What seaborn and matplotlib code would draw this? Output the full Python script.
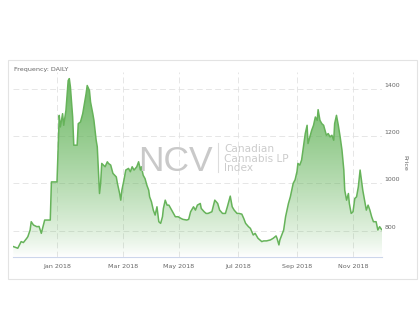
import numpy as np
import pandas as pd
import matplotlib
matplotlib.use("Agg")
import matplotlib.pyplot as plt
from matplotlib.transforms import ScaledTranslation
from matplotlib.patches import Rectangle
from matplotlib.lines import Line2D
import matplotlib.dates as mdates
import seaborn as sns

# ---------------- data ----------------
dates = [
    "2017-11-23", "2017-11-27", "2017-11-30", "2017-12-02", "2017-12-05", "2017-12-06",
    "2017-12-08", "2017-12-09", "2017-12-11", "2017-12-14", "2017-12-16", "2017-12-18",
    "2017-12-21", "2017-12-26", "2017-12-27", "2018-01-01", "2018-01-03", "2018-01-04",
    "2018-01-06", "2018-01-07", "2018-01-09", "2018-01-11", "2018-01-12", "2018-01-13",
    "2018-01-15", "2018-01-16", "2018-01-19", "2018-01-20", "2018-01-22", "2018-01-24",
    "2018-01-27", "2018-01-28", "2018-01-30", "2018-01-31", "2018-02-02", "2018-02-03",
    "2018-02-05", "2018-02-06", "2018-02-08", "2018-02-09", "2018-02-10", "2018-02-13",
    "2018-02-15", "2018-02-16", "2018-02-18", "2018-02-20", "2018-02-23", "2018-02-24",
    "2018-02-26", "2018-02-27", "2018-02-28", "2018-03-02", "2018-03-04", "2018-03-07",
    "2018-03-09", "2018-03-11", "2018-03-13", "2018-03-16", "2018-03-18", "2018-03-20",
    "2018-03-21", "2018-03-23", "2018-03-25", "2018-03-27", "2018-03-29", "2018-03-30",
    "2018-04-01", "2018-04-03", "2018-04-05", "2018-04-07", "2018-04-09", "2018-04-11",
    "2018-04-13", "2018-04-14", "2018-04-16", "2018-04-18", "2018-04-20", "2018-04-22",
    "2018-04-25", "2018-04-27", "2018-04-30", "2018-05-03", "2018-05-05", "2018-05-09",
    "2018-05-11", "2018-05-13", "2018-05-16", "2018-05-18", "2018-05-20", "2018-05-23",
    "2018-05-24", "2018-05-27", "2018-05-29", "2018-05-31", "2018-06-04", "2018-06-07",
    "2018-06-10", "2018-06-12", "2018-06-15", "2018-06-18", "2018-06-20", "2018-06-23",
    "2018-06-25", "2018-06-27", "2018-06-30", "2018-07-02", "2018-07-05", "2018-07-07",
    "2018-07-09", "2018-07-12", "2018-07-14", "2018-07-17", "2018-07-19", "2018-07-21",
    "2018-07-22", "2018-07-24", "2018-07-26", "2018-07-28", "2018-07-31", "2018-08-04",
    "2018-08-07", "2018-08-10", "2018-08-11", "2018-08-13", "2018-08-14", "2018-08-16",
    "2018-08-18", "2018-08-20", "2018-08-23", "2018-08-25", "2018-08-28", "2018-08-30",
    "2018-09-01", "2018-09-02", "2018-09-04", "2018-09-06", "2018-09-08", "2018-09-10",
    "2018-09-12", "2018-09-13", "2018-09-15", "2018-09-17", "2018-09-19", "2018-09-21",
    "2018-09-23", "2018-09-24", "2018-09-26", "2018-09-28", "2018-09-30", "2018-10-02",
    "2018-10-03", "2018-10-05", "2018-10-07", "2018-10-09", "2018-10-11", "2018-10-12",
    "2018-10-14", "2018-10-16", "2018-10-18", "2018-10-20", "2018-10-22", "2018-10-23",
    "2018-10-25", "2018-10-27", "2018-10-28", "2018-10-30", "2018-11-01", "2018-11-03",
    "2018-11-05", "2018-11-07", "2018-11-09", "2018-11-10", "2018-11-12", "2018-11-14",
    "2018-11-16", "2018-11-18", "2018-11-20", "2018-11-22", "2018-11-24", "2018-11-27",
    "2018-11-29", "2018-12-01", "2018-12-03", "2018-12-04",
]
prices = [
    733, 726, 754, 750, 768, 775,
    803, 838, 824, 817, 818, 789,
    845, 845, 1006, 1006, 1287, 1238,
    1294, 1245, 1308, 1434, 1442, 1406,
    1280, 1161, 1161, 1252, 1259, 1294,
    1378, 1413, 1392, 1343, 1294, 1266,
    1182, 1154, 957, 1000, 1084, 1070,
    1091, 1084, 1077, 1042, 1027, 1000,
    957, 929, 971, 1013, 1056, 1063,
    1049, 1070, 1056, 1070, 1091, 1056,
    1070, 1034, 1020, 992, 971, 943,
    922, 887, 866, 901, 838, 831,
    859, 894, 929, 908, 908, 894,
    873, 859, 859, 852, 848, 845,
    848, 880, 901, 887, 908, 915,
    894, 880, 873, 873, 880, 929,
    915, 887, 873, 873, 901, 946,
    901, 887, 873, 873, 870, 852,
    831, 817, 810, 782, 789, 775,
    768, 761, 754, 757, 757, 761,
    768, 778, 768, 740, 761, 782,
    803, 859, 915, 943, 1000, 1015,
    1050, 1084, 1077, 1098, 1154, 1210,
    1245, 1168, 1196, 1224, 1245, 1280,
    1266, 1311, 1266, 1252, 1245, 1217,
    1203, 1210, 1196, 1203, 1182, 1252,
    1287, 1245, 1196, 1140, 1056, 971,
    929, 957, 915, 873, 880, 936,
    943, 985, 1056, 1027, 971, 929,
    887, 908, 887, 859, 838, 838,
    803, 817, 806, 803,
]
tick_dates = ["2018-01-01", "2018-03-01", "2018-05-01", "2018-07-01", "2018-09-01", "2018-11-01"]
tick_labels = ["Jan 2018", "Mar 2018", "May 2018", "Jul 2018", "Sep 2018", "Nov 2018"]
y_ticks = [800, 1000, 1200, 1400]

df = pd.DataFrame({"date": pd.to_datetime(dates), "price": prices})

# ---------------- ordinal-like x scale (as in the stock chart) ----------------
anchor_dates = ["2017-11-23", "2018-01-01", "2018-03-01", "2018-05-01",
                "2018-07-01", "2018-09-01", "2018-11-01", "2018-12-04"]
anchor_pos = np.array([13.3, 57, 123, 179, 238, 297, 353, 382.3])
anchor_num = mdates.date2num(pd.to_datetime(anchor_dates))


def _pw(v, xs, ys):
    v = np.asarray(v, dtype=float)
    out = np.interp(v, xs, ys)
    s0 = (ys[1] - ys[0]) / (xs[1] - xs[0])
    s1 = (ys[-1] - ys[-2]) / (xs[-1] - xs[-2])
    out = np.where(v < xs[0], ys[0] + (v - xs[0]) * s0, out)
    out = np.where(v > xs[-1], ys[-1] + (v - xs[-1]) * s1, out)
    return out


def fwd(v):
    return _pw(v, anchor_num, anchor_pos)


def inv(v):
    return _pw(v, anchor_pos, anchor_num)


# ---------------- figure ----------------
W, H = 420, 322
fig = plt.figure(figsize=(W / 100, H / 100), dpi=100, facecolor="white")

# outer panel border
fig.add_artist(Rectangle((8 / W, 1 - 279 / H), (417 - 8) / W, (279 - 60) / H,
                         transform=fig.transFigure, fill=False, ec="#e3e3e3", lw=0.8))

ax = fig.add_axes([13.3 / W, 1 - 257 / H, (382.3 - 13.3) / W, (257 - 72) / H])
ax.set_facecolor("none")

ymin, ymax = 689, 1470
line_color = "#66b35a"

# gradient fill under the curve
poly = ax.fill_between(df["date"], df["price"], ymin, color="none", lw=0)
n = 256
grad = np.zeros((n, 1, 4))
grad[:, 0, 0] = 0.38
grad[:, 0, 1] = 0.70
grad[:, 0, 2] = 0.34
grad[:, 0, 3] = np.linspace(1.0, 0.0, n) ** 0.8 * 0.95
im = ax.imshow(grad, extent=[0, 1, 0, 1], transform=ax.transAxes, aspect="auto",
               origin="upper", zorder=1, interpolation="bilinear")
im.set_clip_path(poly.get_paths()[0], transform=ax.transData)

sns.lineplot(data=df, x="date", y="price", ax=ax, color=line_color, lw=1.1,
             estimator=None, zorder=3)

ax.set_xscale("function", functions=(fwd, inv))
ax.set_xlim(df["date"].iloc[0], df["date"].iloc[-1])
ax.set_ylim(ymin, ymax)

ax.set_xticks(pd.to_datetime(tick_dates))
ax.set_xticklabels(tick_labels)
ax.set_yticks(y_ticks)
ax.set_yticklabels([str(v) for v in y_ticks])
ax.set_xlabel("")
ax.set_ylabel("")

ax.yaxis.tick_right()
ax.tick_params(axis="x", length=0, pad=5, labelsize=4.6, labelcolor="#666666")
ax.tick_params(axis="y", which="both", left=False, right=False, length=0, pad=1.5,
               labelsize=4.5, labelcolor="#666666", labelright=True, labelleft=False)

off = ScaledTranslation(0, 4 / 100, fig.dpi_scale_trans)
for t in ax.yaxis.get_major_ticks():
    t.label2.set_transform(t.label2.get_transform() + off)

ax.set_axisbelow(True)
ax.grid(True, color="#e2e2e2", linestyle=(0, (7, 4)), linewidth=0.6)
for s in ["top", "left", "right"]:
    ax.spines[s].set_visible(False)
ax.spines["bottom"].set_color("#ccd6eb")
ax.spines["bottom"].set_linewidth(0.8)

ax.yaxis.set_label_position("right")
ax.set_ylabel("Price", rotation=270, fontsize=4.6, color="#666666")
ax.yaxis.set_label_coords((407 - 13.3) / (382.3 - 13.3), (257 - 163) / (257 - 72))

# header label
fig.text(14 / W, 1 - 70 / H, "Frequency: DAILY", fontsize=4.6, color="#666666",
         ha="left", va="center")

# watermark
fig.text(175 / W, 1 - 171 / H, "NCV", fontsize=25.5, color="#c9c9c9",
         family="Liberation Sans", ha="center", va="baseline", zorder=2)
fig.add_artist(Line2D([218 / W, 218 / W], [1 - 143 / H, 1 - 172 / H],
                      transform=fig.transFigure, color="#dddddd", lw=0.8))
for txt, yb in [("Canadian", 152), ("Cannabis LP", 161.5), ("Index", 171)]:
    fig.text(224 / W, 1 - yb / H, txt, fontsize=7.6, color="#cccccc",
             ha="left", va="baseline")

fig.savefig("out.png", dpi=100, facecolor="white")
